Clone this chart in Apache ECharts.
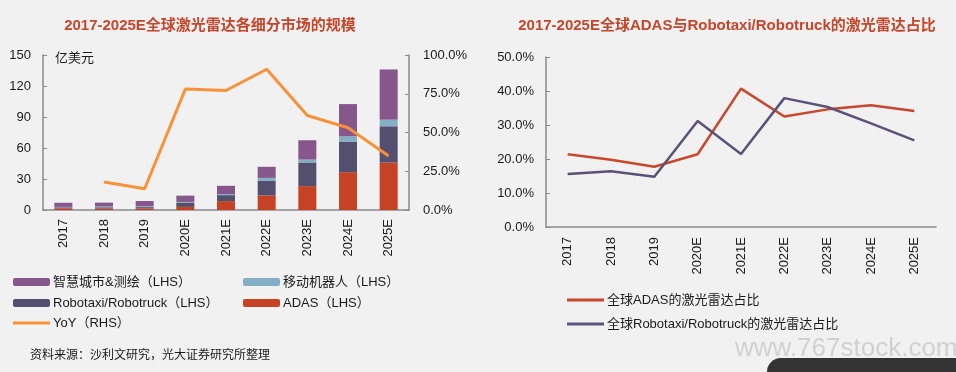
<!DOCTYPE html>
<html><head><meta charset="utf-8">
<script src="https://cdn.jsdelivr.net/npm/echarts@6/dist/echarts.min.js"></script>
<style>html,body{margin:0;padding:0;background:#f1f1f1;}#c{width:956px;height:372px;}</style>
</head><body><div id="c"></div>
<script>
const categories = ['2017','2018','2019','2020E','2021E','2022E','2023E','2024E','2025E'];
const adas      = [1.5, 1.4, 1.5, 3.0, 8.6, 14.1, 23.1, 36.6, 45.9];
const robotaxi  = [1.1, 1.2, 1.3, 4.2, 5.8, 14.4, 22.9, 29.6, 35.1];
const mobileBot = [0.4, 0.8, 0.9, 0.6, 1.0, 2.6, 2.8, 5.2, 6.4];
const smartCity = [4.0, 3.7, 5.0, 6.1, 8.0, 10.7, 18.7, 31.1, 48.6];
const yoy       = [null, 18.0, 13.7, 78.0, 77.1, 90.8, 61.0, 53.1, 34.9];
const adasShare = [21.4, 19.8, 17.7, 21.4, 40.7, 32.5, 34.6, 35.8, 34.1];
const roboShare = [15.6, 16.4, 14.8, 31.2, 21.5, 37.9, 35.3, 30.5, 25.5];
const leftTicks = [0, 30, 60, 90, 120, 150];

const FONT = "'Liberation Sans', Arial, 'Noto Sans CJK SC', sans-serif";
const txt = '#1a1a1a';
const axisC = '#8a8a8a';
const cSmart = '#85578A', cMobile = '#84AEC6', cRobo = '#544E6F', cAdas = '#C64224', cYoy = '#F7923A';
const cLineRed = '#C9472B', cLinePur = '#5B5279';

const chart = echarts.init(document.getElementById('c'));
const lg = (left, top, data, h, gap) => ({
  left, top, padding: 0, orient: 'vertical', itemWidth: 37, itemHeight: h, itemGap: gap || 7,
  data, textStyle: {fontFamily: FONT, fontSize: 13, color: txt, lineHeight: 14, padding: [0,0,0,-2]}
});
chart.setOption({
  backgroundColor: '#f1f1f1',
  animation: false,
  textStyle: {fontFamily: FONT},
  title: [
    {text: '2017-2025E全球激光雷达各细分市场的规模', left: 205, top: 13, textAlign: 'center',
     textStyle: {fontFamily: FONT, fontSize: 15, fontWeight: 'bold', color: '#C5462B'}},
    {text: '2017-2025E全球ADAS与Robotaxi/Robotruck的激光雷达占比', left: 722, top: 13, textAlign: 'center',
     textStyle: {fontFamily: FONT, fontSize: 15, fontWeight: 'bold', color: '#C5462B'}}
  ],
  legend: [
    lg(13, 275, ['智慧城市&测绘（LHS）', 'Robotaxi/Robotruck（LHS）'], 8),
    lg(243, 275, ['移动机器人（LHS）', 'ADAS（LHS）'], 8),
    lg(13, 316, [{name: 'YoY（RHS）', icon: 'rect'}], 3),
    lg(567, 293, [{name: '全球ADAS的激光雷达占比', icon: 'rect'}, {name: '全球Robotaxi/Robotruck的激光雷达占比', icon: 'rect'}], 3, 10)
  ],
  grid: [
    {left: 43, right: 547, top: 55, bottom: 162},
    {left: 546, right: 20, top: 57, bottom: 145}
  ],
  xAxis: [
    {type: 'category', gridIndex: 0, data: categories,
     axisLine: {lineStyle: {color: axisC, width: 1.5}},
     axisTick: {inside: true, length: 4, lineStyle: {color: axisC}},
     axisLabel: {rotate: 90, margin: 9, fontSize: 13, color: txt, fontFamily: FONT}},
    {type: 'category', gridIndex: 1, data: categories,
     axisLine: {lineStyle: {color: axisC, width: 1.5}},
     axisTick: {inside: true, length: 4, lineStyle: {color: axisC}},
     axisLabel: {rotate: 90, margin: 10, fontSize: 13, color: txt, fontFamily: FONT}}
  ],
  yAxis: [
    {type: 'value', gridIndex: 0, min: leftTicks[0], max: leftTicks[leftTicks.length-1], interval: 30,
     splitLine: {show: false},
     axisLine: {show: true, lineStyle: {color: axisC, width: 1.5}},
     axisTick: {show: true, inside: true, length: 4, lineStyle: {color: axisC}},
     axisLabel: {margin: 12, fontSize: 13, color: txt, fontFamily: FONT}},
    {type: 'value', gridIndex: 0, min: 0, max: 100, interval: 25, position: 'right',
     splitLine: {show: false},
     axisLine: {show: true, lineStyle: {color: axisC, width: 1.5}},
     axisTick: {show: true, inside: true, length: 4, lineStyle: {color: axisC}},
     axisLabel: {margin: 14, fontSize: 13, color: txt, fontFamily: FONT, formatter: v => v.toFixed(1) + '%'}},
    {type: 'value', gridIndex: 1, min: 0, max: 50, interval: 10,
     splitLine: {show: false},
     axisLine: {show: true, lineStyle: {color: axisC, width: 1.5}},
     axisTick: {show: true, inside: true, length: 4, lineStyle: {color: axisC}},
     axisLabel: {margin: 12, fontSize: 13, color: txt, fontFamily: FONT, formatter: v => v.toFixed(1) + '%'}}
  ],
  series: [
    {name: 'ADAS（LHS）', type: 'bar', stack: 'a', xAxisIndex: 0, yAxisIndex: 0, data: adas, barWidth: 18, itemStyle: {color: cAdas}},
    {name: 'Robotaxi/Robotruck（LHS）', type: 'bar', stack: 'a', xAxisIndex: 0, yAxisIndex: 0, data: robotaxi, itemStyle: {color: cRobo}},
    {name: '移动机器人（LHS）', type: 'bar', stack: 'a', xAxisIndex: 0, yAxisIndex: 0, data: mobileBot, itemStyle: {color: cMobile}},
    {name: '智慧城市&测绘（LHS）', type: 'bar', stack: 'a', xAxisIndex: 0, yAxisIndex: 0, data: smartCity, itemStyle: {color: cSmart}},
    {name: 'YoY（RHS）', type: 'line', xAxisIndex: 0, yAxisIndex: 1, data: yoy, symbol: 'none',
     lineStyle: {color: cYoy, width: 3}, itemStyle: {color: cYoy}},
    {name: '全球ADAS的激光雷达占比', type: 'line', xAxisIndex: 1, yAxisIndex: 2, data: adasShare, symbol: 'none',
     lineStyle: {color: cLineRed, width: 2.5}, itemStyle: {color: cLineRed}},
    {name: '全球Robotaxi/Robotruck的激光雷达占比', type: 'line', xAxisIndex: 1, yAxisIndex: 2, data: roboShare, symbol: 'none',
     lineStyle: {color: cLinePur, width: 2.5}, itemStyle: {color: cLinePur}}
  ],
  graphic: [
    {type: 'text', left: 55, top: 52, style: {text: '亿美元', font: '13px ' + FONT, fill: txt}},
    {type: 'text', left: 30, top: 350, style: {text: '资料来源：沙利文研究，光大证券研究所整理', font: '12px ' + FONT, fill: txt}},
    {type: 'text', left: 735, top: 336, style: {text: 'www.767stock.com', font: '26px ' + FONT, fill: 'rgba(150,150,150,0.35)'}},
    {type: 'rect', shape: {x: 767, y: 358, width: 210, height: 30, r: 14}, style: {fill: '#333'}}
  ]
});
</script></body></html>
